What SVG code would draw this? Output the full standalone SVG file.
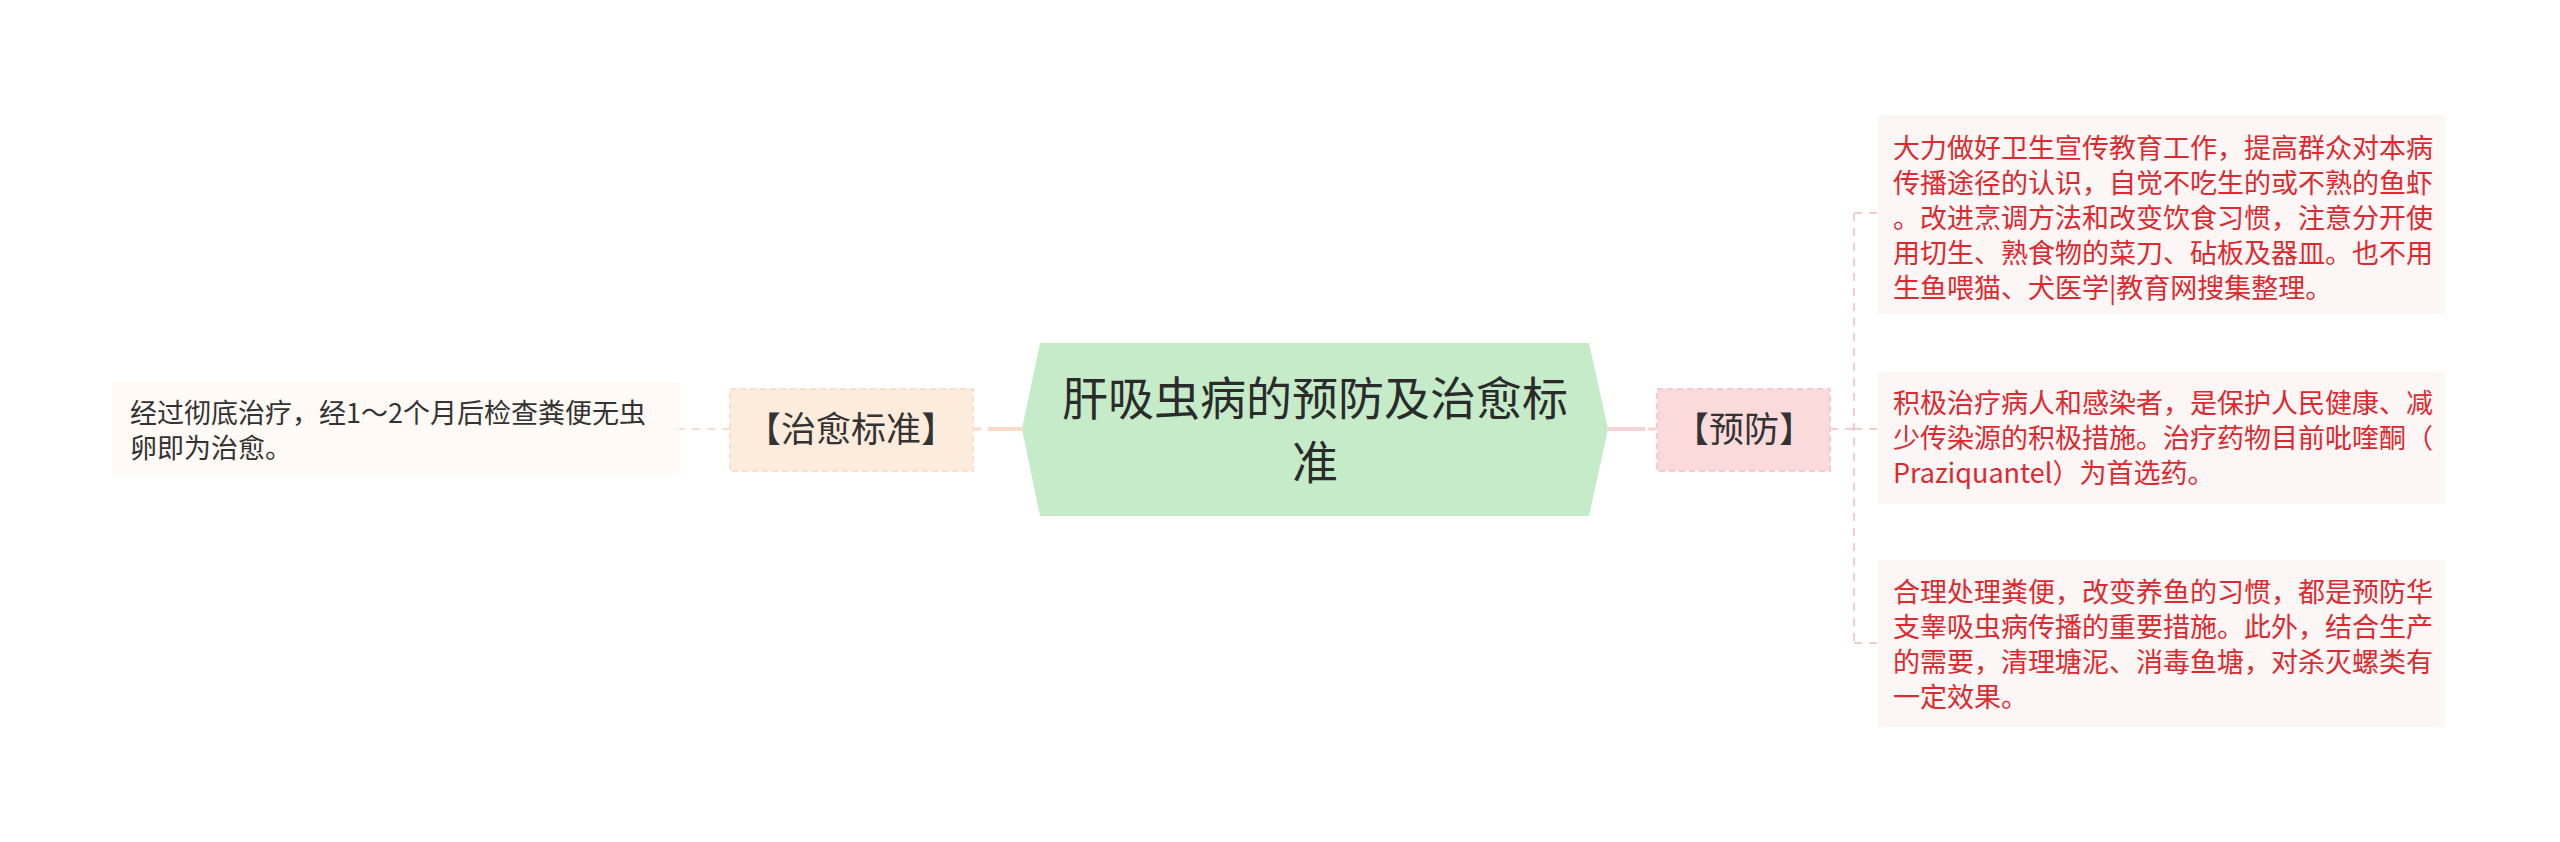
<svg xmlns="http://www.w3.org/2000/svg" width="2560" height="842" viewBox="0 0 2560 842">
<style>
text{font-family:"Noto Sans CJK SC","Noto Sans",sans-serif}
.main{font-size:46px;fill:#2b2b2b;text-anchor:middle}
.sub{font-size:35px;fill:#333333;text-anchor:middle}
.leafR{font-size:27px;fill:#dd2a2f}
.leafL{font-size:27px;fill:#333333}
.treeR{stroke:#f3cdd0;stroke-width:2;stroke-dasharray:8 7;fill:none}
.treeL{stroke:#f8dfca;stroke-width:2;stroke-dasharray:8 7;fill:none}
</style>
<rect width="2560" height="842" fill="#ffffff"/>
<g id="connectors">
<line x1="1608" y1="429" x2="1645" y2="429" stroke="#f7d3d4" stroke-width="4"/>
<line x1="1648" y1="429" x2="1656" y2="429" stroke="#f7d3d4" stroke-width="3"/>
<line x1="988" y1="429" x2="1022" y2="429" stroke="#f9dcc6" stroke-width="4"/>
<line x1="973" y1="429" x2="981" y2="429" stroke="#f9dcc6" stroke-width="3"/>
<path class="treeR" d="M1830 429 H1854 M1854 213 V643 M1854 213 H1878 M1854 429 H1878 M1854 643 H1878"/>
<path class="treeL" d="M730 429 H679"/>
</g>
<g id="root">
<polygon points="1040,343 1589,343 1608,429 1589,516 1040,516 1022,429" fill="#c5ebc8"/>
<text class="main" x="1315" y="415">肝吸虫病的预防及治愈标</text>
<text class="main" x="1315" y="479">准</text>
</g>
<g id="prevent">
<rect x="1657" y="389" width="173" height="82" fill="#fadadb" stroke="#f5ccce" stroke-width="2" stroke-dasharray="6 4"/>
<text class="sub" x="1744" y="442">【预防】</text>
</g>
<g id="cure">
<rect x="730" y="389" width="243" height="82" fill="#fdebdb" stroke="#f8e0cc" stroke-width="2" stroke-dasharray="6 4"/>
<text class="sub" x="851" y="442">【治愈标准】</text>
</g>
<g id="leaf-cure">
<rect x="112" y="382" width="567" height="93" fill="#fffaf5"/>
<text class="leafL" x="130"><tspan x="130" y="423">经过彻底治疗，经1～2个月后检查粪便无虫</tspan><tspan x="130" y="458">卵即为治愈。</tspan></text>
</g>
<g id="leaf-prevent-1">
<rect x="1878" y="115" width="567" height="199" fill="#fdf6f6"/>
<text class="leafR"><tspan x="1893" y="158">大力做好卫生宣传教育工作，提高群众对本病</tspan><tspan x="1893" y="193">传播途径的认识，自觉不吃生的或不熟的鱼虾</tspan><tspan x="1893" y="228">。改进烹调方法和改变饮食习惯，注意分开使</tspan><tspan x="1893" y="263">用切生、熟食物的菜刀、砧板及器皿。也不用</tspan><tspan x="1893" y="298">生鱼喂猫、犬医学|教育网搜集整理。</tspan></text>
</g>
<g id="leaf-prevent-2">
<rect x="1878" y="372" width="567" height="132" fill="#fdf6f6"/>
<text class="leafR"><tspan x="1893" y="413">积极治疗病人和感染者，是保护人民健康、减</tspan><tspan x="1893" y="448">少传染源的积极措施。治疗药物目前吡喹酮（</tspan><tspan x="1893" y="483">Praziquantel）为首选药。</tspan></text>
</g>
<g id="leaf-prevent-3">
<rect x="1878" y="560" width="567" height="167" fill="#fdf6f6"/>
<text class="leafR"><tspan x="1893" y="602">合理处理粪便，改变养鱼的习惯，都是预防华</tspan><tspan x="1893" y="637">支睾吸虫病传播的重要措施。此外，结合生产</tspan><tspan x="1893" y="672">的需要，清理塘泥、消毒鱼塘，对杀灭螺类有</tspan><tspan x="1893" y="707">一定效果。</tspan></text>
</g>
</svg>
